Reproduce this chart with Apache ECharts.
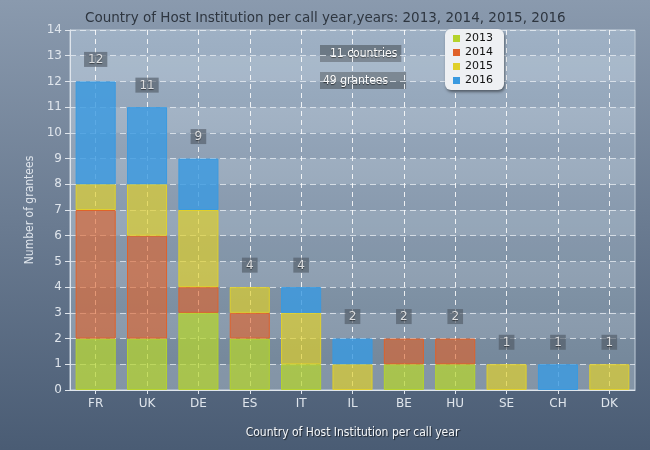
<!DOCTYPE html>
<html>
<head>
<meta charset="utf-8">
<script src="https://cdn.jsdelivr.net/npm/echarts@6/dist/echarts.min.js"></script>
<style>html,body{margin:0;padding:0;}#c{width:650px;height:450px;}</style>
</head>
<body>
<div id="c"></div>
<script>
const categories = ['FR','UK','DE','ES','IT','IL','BE','HU','SE','CH','DK'];
const years = ['2013','2014','2015','2016'];
const v2013 = [2,2,3,2,1,0,1,1,0,0,0];
const v2014 = [5,4,1,1,0,0,1,1,0,0,0];
const v2015 = [1,2,3,1,2,1,0,0,1,0,1];
const v2016 = [4,3,2,0,1,1,0,0,0,1,0];
const yTicks = [0,1,2,3,4,5,6,7,8,9,10,11,12,13,14];

const seriesValues = [v2013, v2014, v2015, v2016];
const solid = ['#b5d32c','#e0622a','#e0d02a','#3a9ae0'];
const fill = ['rgba(181,214,44,0.72)','rgba(224,98,42,0.62)','rgba(224,208,42,0.68)','rgba(58,154,224,0.82)'];
const totals = categories.map((c,i)=>seriesValues.reduce((s,a)=>s+a[i],0));
const grandTotal = totals.reduce((a,b)=>a+b,0);

const FONT = 'DejaVu Sans';
const CFONT = '"DejaVu Sans Condensed", "DejaVu Sans"';
const chart = echarts.init(document.getElementById('c'));

const barSeries = years.map((y,k)=>({
  name: y, type: 'bar', stack: 'all', barCategoryGap: '22%',
  data: seriesValues[k].map(v => v === 0 ? null : v),
  itemStyle: {color: fill[k], borderColor: solid[k], borderWidth: 1}
}));

const boxLabel = {
  backgroundColor: 'rgba(78,88,100,0.78)', color: '#fff', fontFamily: FONT, fontSize: 12,
  padding: [2,4,1,4], textShadowColor: 'rgba(0,0,0,0.6)', textShadowBlur: 1, textShadowOffsetY: 1
};
const noteStyle = {fill:'#fff', font: '12px ' + CFONT, backgroundColor:'rgba(95,105,115,0.75)', textShadowColor:'rgba(0,0,0,0.6)', textShadowBlur:1, textShadowOffsetY:1};

chart.setOption({
  animation: false,
  backgroundColor: {type:'linear', x:0, y:0, x2:0, y2:1, colorStops:[{offset:0,color:'#8a9aae'},{offset:1,color:'#4a5c74'}]},
  title: {
    text: 'Country of Host Institution per call year,years: ' + years.join(', '),
    left: 80, top: 6,
    textStyle: {color:'#2e3640', fontFamily: FONT, fontSize: 13.5, fontWeight: 'normal'}
  },
  legend: {
    orient: 'vertical', left: 445, top: 29,
    data: years.map((y,k)=>({name:y, itemStyle:{color: solid[k], borderWidth:0}})),
    icon: 'rect', itemWidth: 7, itemHeight: 7, itemGap: 1,
    padding: [3,11,3,8],
    backgroundColor: '#eef0f3', borderRadius: 6,
    shadowColor: 'rgba(0,0,0,0.45)', shadowBlur: 3, shadowOffsetX: 1, shadowOffsetY: 2,
    textStyle: {color:'#111', fontFamily: FONT, fontSize: 11, lineHeight: 13}
  },
  grid: {
    left: 70, right: 15, top: 30, bottom: 60, show: true,
    backgroundColor: {type:'linear', x:0, y:0, x2:0, y2:1, colorStops:[{offset:0,color:'#a3b5c9'},{offset:1,color:'#75889c'}]},
    borderColor: '#c4d0dc', borderWidth: 1
  },
  xAxis: {
    type: 'category', data: categories,
    name: 'Country of Host Institution per call year', nameLocation: 'middle', nameGap: 37,
    nameTextStyle: {color:'#f4f6f8', fontFamily: CFONT, fontSize: 12, textShadowColor:'rgba(0,0,0,0.6)', textShadowBlur:1, textShadowOffsetX:1, textShadowOffsetY:1},
    axisLine: {lineStyle: {color:'#dfe5ec', width: 1}},
    axisTick: {show: true, alignWithLabel: true, length: 4, lineStyle:{color:'#dfe5ec'}},
    axisLabel: {color:'#dfe5ec', fontFamily: FONT, fontSize: 12, margin: 8},
    splitLine: {show: true, alignWithLabel: true, lineStyle: {color:'rgba(255,255,255,0.85)', type: [5,4], width: 1}}
  },
  yAxis: {
    type: 'value', min: yTicks[0], max: yTicks[yTicks.length-1], interval: 1,
    name: 'Number of grantees', nameLocation: 'middle', nameGap: 33,
    nameTextStyle: {color:'#dfe5ec', fontFamily: CFONT, fontSize: 12},
    axisLine: {show: true, lineStyle: {color:'#dfe5ec'}},
    axisTick: {show: true, length: 5, lineStyle:{color:'#dfe5ec'}},
    axisLabel: {color:'#dfe5ec', fontFamily: FONT, fontSize: 12, margin: 8},
    splitLine: {lineStyle: {color:'rgba(235,240,245,0.75)', type: [6,4], width: 1}},
    splitArea: {show: true, areaStyle: {color: ['rgba(255,255,255,0.1)','rgba(0,0,0,0.02)']}}
  },
  graphic: [
    {type:'text', left: 320, top: 45, style: Object.assign({text: categories.length + ' countries', padding:[3,4,2,10]}, noteStyle)},
    {type:'text', left: 320, top: 72, style: Object.assign({text: grandTotal + ' grantees', padding:[3,18,2,3]}, noteStyle)}
  ],
  series: barSeries.concat([{
    name: 'Total', type: 'scatter', data: totals, symbol: 'rect', symbolSize: 1,
    itemStyle: {color: 'transparent'}, silent: true, z: 5,
    label: Object.assign({show: true, position: 'top', distance: 14, formatter: '{c}'}, boxLabel)
  }])
});
</script>
</body>
</html>
